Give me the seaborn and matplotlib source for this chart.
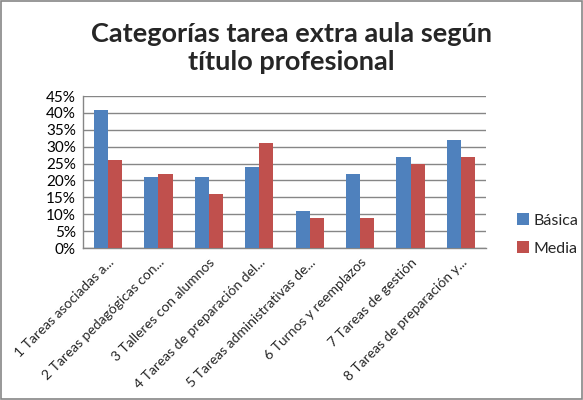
import matplotlib
matplotlib.use("Agg")
import matplotlib.pyplot as plt
import seaborn as sns
import pandas as pd
from matplotlib.ticker import PercentFormatter, MultipleLocator
from matplotlib.patches import Rectangle

categories = [
    "1 Tareas asociadas a...",
    "2 Tareas pedagógicas con...",
    "3 Talleres con alumnos",
    "4 Tareas de preparación del...",
    "5 Tareas administrativas de...",
    "6 Turnos y reemplazos",
    "7 Tareas de gestión",
    "8 Tareas de preparación y...",
]
basica = [41, 21, 21, 24, 11, 22, 27, 32]
media = [26, 22, 16, 31, 9, 9, 25, 27]
series_names = ["Básica", "Media"]
title = "Categorías tarea extra aula según\ntítulo profesional"

df = pd.DataFrame({
    "cat": categories * 2,
    "val": basica + media,
    "serie": [series_names[0]] * len(categories) + [series_names[1]] * len(categories),
})

sns.set_style("white")
plt.rcParams["font.family"] = ["Lato", "DejaVu Sans"]

fig = plt.figure(figsize=(5.83, 4.0), dpi=100)
ax = fig.add_axes([0.142, 0.38, 0.692, 0.38])

sns.barplot(data=df, x="cat", y="val", hue="serie",
            palette=["#4F81BD", "#C0504D"], width=0.56, ax=ax,
            saturation=1, edgecolor="none", legend=True, zorder=3)

ax.set_ylim(0, 45)
ax.yaxis.set_major_locator(MultipleLocator(5))
ax.yaxis.set_major_formatter(PercentFormatter(decimals=0))
ax.grid(axis="y", color="#868686", linewidth=1, zorder=0)
ax.set_axisbelow(True)
for s in ["top", "right"]:
    ax.spines[s].set_visible(False)
for s in ["left", "bottom"]:
    ax.spines[s].set_color("#868686")
    ax.spines[s].set_linewidth(1)
ax.set_xlabel("")
ax.set_ylabel("")
ax.tick_params(axis="y", labelsize=11, length=0, pad=5, colors="black")
ax.tick_params(axis="x", labelsize=10, length=0, pad=6)
ax.set_xticks(range(len(categories)))
ax.set_xticklabels(categories, rotation=45, ha="right", rotation_mode="anchor")
ax.set_xlim(-0.5, len(categories) - 0.5)

leg = ax.legend(loc="center left", bbox_to_anchor=(1.04, 0.09), frameon=False,
                fontsize=11.5, handlelength=0.75, handleheight=0.75,
                handletextpad=0.3, labelspacing=0.85)

fig.text(0.5, 0.88, title, ha="center", va="center", fontsize=19.5,
         fontweight="bold", linespacing=1.25)

fig.patches.append(Rectangle((0.002, 0.002), 0.996, 0.996, transform=fig.transFigure,
                             fill=False, edgecolor="#868686", linewidth=1.2))

fig.savefig("out.png", dpi=100)
